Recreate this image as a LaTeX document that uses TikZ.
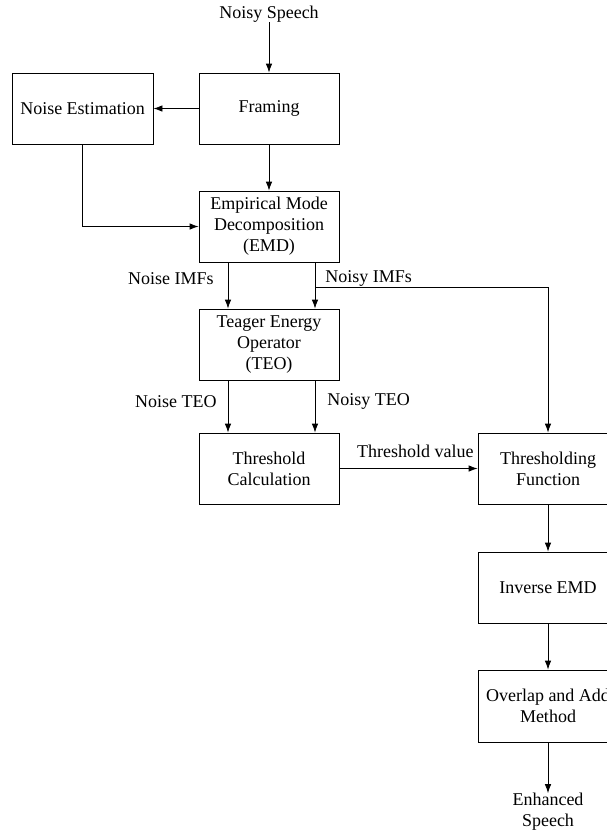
\documentclass[tikz,border=0pt]{standalone}
\usepackage{fontspec}
\setmainfont{Liberation Serif}
\usetikzlibrary{arrows.meta}
\begin{document}
\begin{tikzpicture}[x=1pt,y=-1pt,
  box/.style={draw, line width=0.8pt, minimum width=140pt, minimum height=71pt, align=center, inner sep=2pt, font=\fontsize{18}{21}\selectfont},
  lbl/.style={inner sep=0pt, font=\fontsize{18}{21}\selectfont, align=center},
  arr/.style={draw, line width=0.8pt, -{Latex[length=9pt,width=6.5pt]}},
  ln/.style={draw, line width=0.8pt}]
\useasboundingbox (0,0) rectangle (607,831);
\clip (0,0) rectangle (607,831);
\node[lbl] (in) at (269,14) {Noisy Speech};
\node[box, minimum width=141pt] (ne) at (82.5,108.5) {Noise Estimation};
\node[box] (fr) at (269,108.5) {Framing};
\node[box] (emd) at (269,226.5) {Empirical Mode\\Decomposition\\(EMD)};
\node[box] (teo) at (269,344.5) {Teager Energy\\Operator\\(TEO)};
\node[box] (tc) at (269,468.5) {Threshold\\Calculation};
\node[box] (tf) at (548,468.5) {Thresholding\\Function};
\node[box] (ie) at (548,587.5) {Inverse EMD};
\node[box, minimum height=72pt] (oa) at (548,706) {Overlap and Add\\Method};
\node[lbl] (out) at (548,812) {Enhanced\\Speech};
\coordinate (br) at (315,287);
\path[arr] (in.south) -- (fr.north);
\path[arr] (fr.west) -- (ne.east);
\path[arr] (fr.south) -- (emd.north);
\path[arr] (ne.south) |- (emd.west);
\path[arr] ([xshift=-41pt]emd.south) -- node[lbl, pos=0.35, left=14pt] (l1) {Noise IMFs} ([xshift=-41pt]teo.north);
\path[arr] ([xshift=46pt]emd.south) -- node[lbl, pos=0.35, right=10pt] (l2) {Noisy IMFs} ([xshift=46pt]teo.north);
\path[arr] (br) -| (tf.north);
\path[arr] ([xshift=-41pt]teo.south) -- node[lbl, pos=0.4, left=11pt] (l3) {Noise TEO} ([xshift=-41pt]tc.north);
\path[arr] ([xshift=46pt]teo.south) -- node[lbl, pos=0.4, right=12pt] (l4) {Noisy TEO} ([xshift=46pt]tc.north);
\path[arr] (tc.east) -- node[lbl, above=10pt, pos=0.55] (l5) {Threshold value} (tf.west);
\path[arr] (tf.south) -- (ie.north);
\path[arr] (ie.south) -- (oa.north);
\path[arr] (oa.south) -- (out.north);
\end{tikzpicture}
\end{document}
